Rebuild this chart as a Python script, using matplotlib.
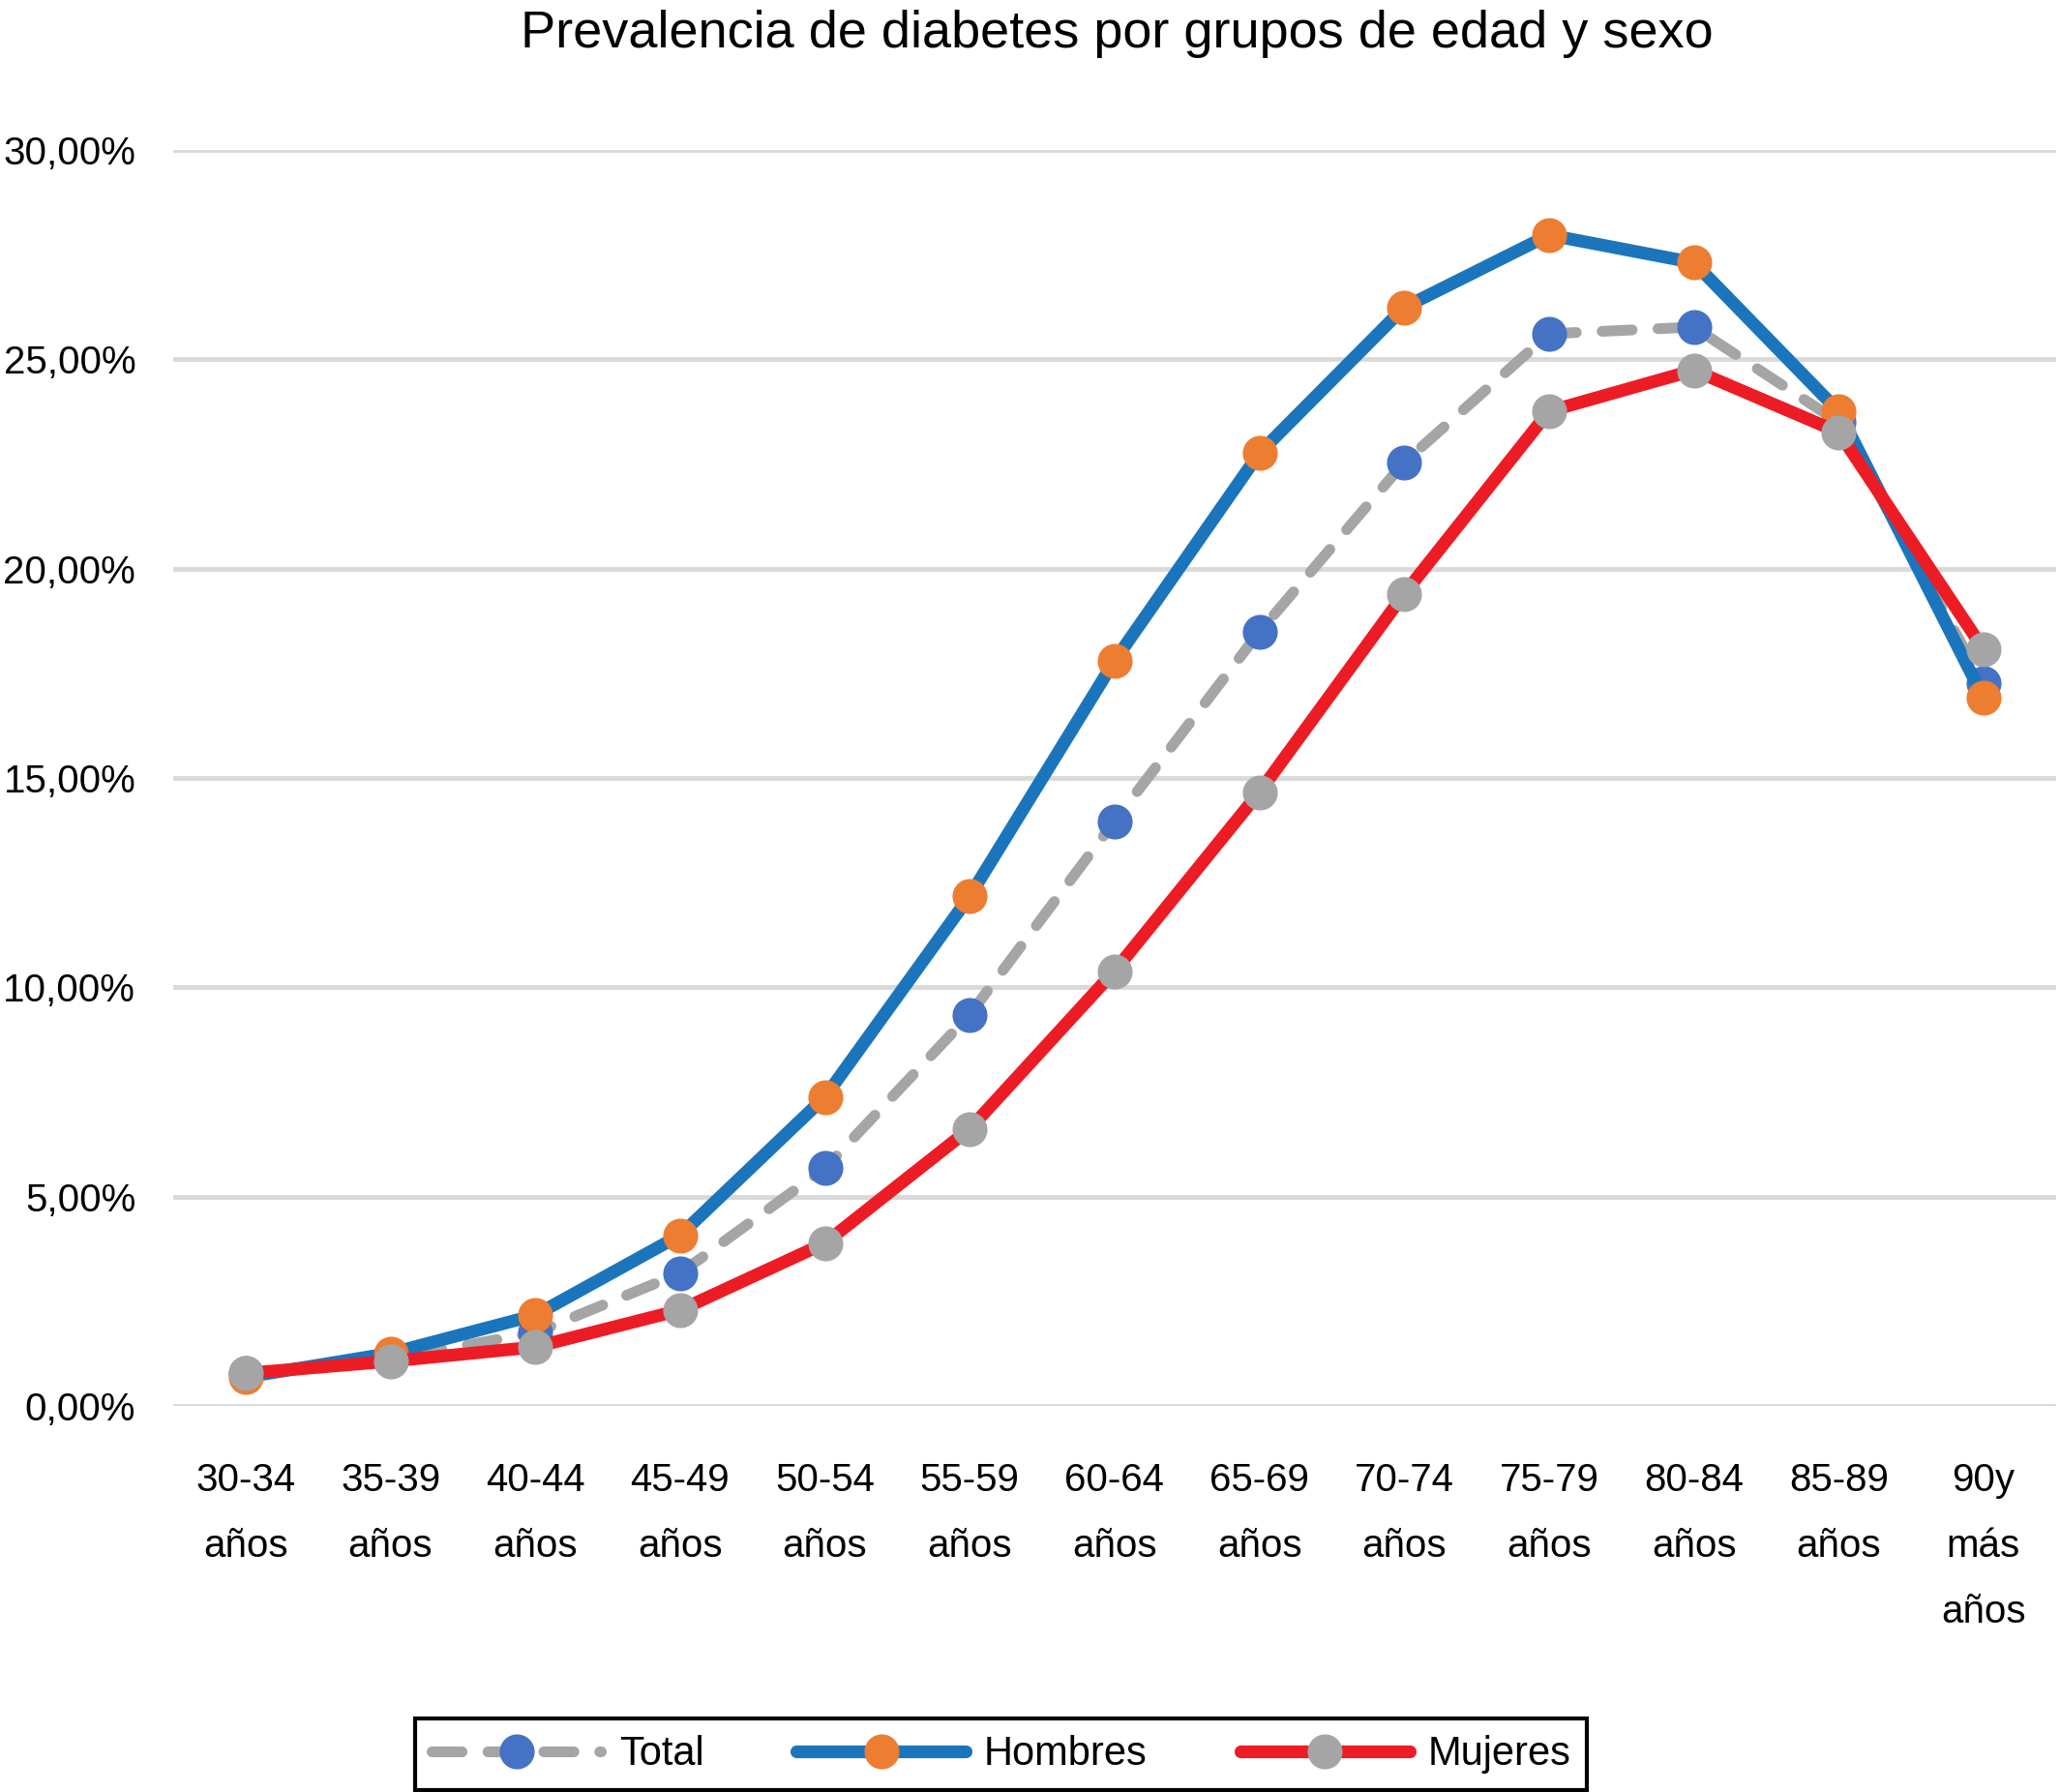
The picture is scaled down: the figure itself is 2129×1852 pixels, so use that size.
import matplotlib.pyplot as plt
from matplotlib.ticker import FuncFormatter

# Datos (porcentaje)
grupos = ["30-34\naños", "35-39\naños", "40-44\naños", "45-49\naños", "50-54\naños",
          "55-59\naños", "60-64\naños", "65-69\naños", "70-74\naños", "75-79\naños",
          "80-84\naños", "85-89\naños", "90y\nmás\naños"]
total = [0.78, 1.13, 1.75, 3.17, 5.68, 9.35, 13.97, 18.49, 22.54, 25.61, 25.77, 23.5, 17.26]
hombres = [0.69, 1.26, 2.17, 4.08, 7.38, 12.18, 17.80, 22.76, 26.24, 27.97, 27.31, 23.76, 16.92]
mujeres = [0.78, 1.07, 1.41, 2.29, 3.89, 6.62, 10.39, 14.66, 19.40, 23.76, 24.74, 23.26, 18.08]
ticks_y = [0, 5, 10, 15, 20, 25, 30]

plt.rcParams['font.family'] = ['Liberation Sans', 'DejaVu Sans']

fig = plt.figure(figsize=(21.29, 18.52), dpi=100)
ax = fig.add_axes([0.0841, 0.2154, 0.9139, 0.7009])

x = list(range(len(grupos)))

ax.plot(x, total, color="#a5a5a5", lw=8, linestyle=(0, (2.8, 2.4)),
        dash_capstyle="round", marker="o", ms=25, mfc="#4472c4", mec="#4472c4",
        label="Total", clip_on=False, zorder=3)
ax.plot(x, hombres, color="#1b75bc", lw=9.5, solid_capstyle="round",
        marker="o", ms=25, mfc="#ed7d31", mec="#ed7d31",
        label="Hombres", clip_on=False, zorder=4)
ax.plot(x, mujeres, color="#ed1c24", lw=9.5, solid_capstyle="round",
        marker="o", ms=25, mfc="#a5a5a5", mec="#a5a5a5",
        label="Mujeres", clip_on=False, zorder=5)

ax.set_xlim(-0.5, len(grupos) - 0.5)
ax.set_ylim(0, 30)
ax.set_yticks(ticks_y)
ax.yaxis.set_major_formatter(FuncFormatter(lambda v, p: f"{v:.2f}".replace(".", ",") + "%"))
ax.grid(axis="y", color="#d9d9d9", lw=3.5)
ax.set_axisbelow(True)
for s in ax.spines.values():
    s.set_visible(False)

ax.set_xticks(x)
ax.set_xticklabels(grupos, linespacing=2.0)
ax.tick_params(axis="x", length=0, pad=42, labelsize=29)
ax.tick_params(axis="y", length=0, pad=28, labelsize=29)

fig.text(0.542, 0.981, "Prevalencia de diabetes por grupos de edad y sexo",
         ha="center", va="center", fontsize=39)

leg = fig.legend(loc="center", bbox_to_anchor=(0.486, 0.021), ncol=3, fontsize=30,
                 numpoints=1, handlelength=4.2, handletextpad=0.45, columnspacing=2.3,
                 fancybox=False, framealpha=1, edgecolor="black", borderpad=0.4)
leg.get_frame().set_linewidth(3)

fig.savefig("out.png", dpi=100)
